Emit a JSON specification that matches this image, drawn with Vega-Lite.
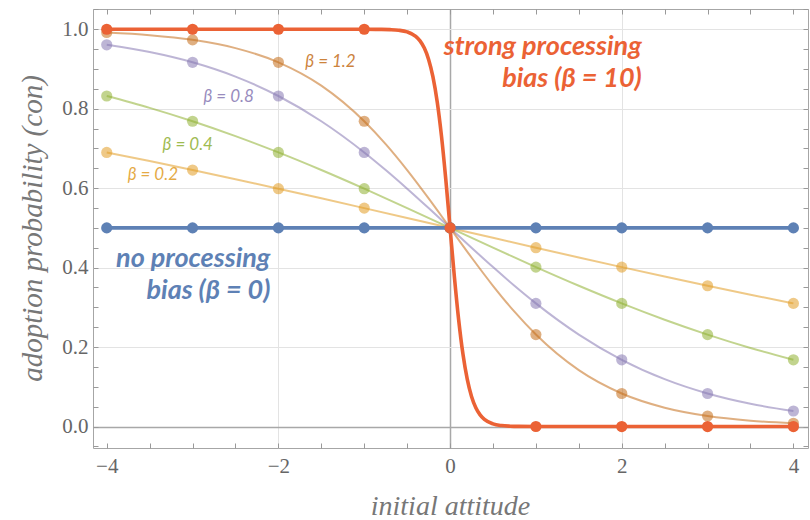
{
  "$schema": "https://vega.github.io/schema/vega-lite/v6.json",
  "width": 715,
  "height": 439,
  "autosize": {"type": "none"},
  "padding": {"left": 93, "top": 9, "right": 2, "bottom": 72},
  "background": "white",
  "config": {"view": {"stroke": "#a6a6a6", "strokeWidth": 1}},
  "datasets": {
    "curves": [
      {"beta": "β = 0", "x": -4, "p": 0.5}, {"beta": "β = 0", "x": -3, "p": 0.5}, {"beta": "β = 0", "x": -2, "p": 0.5}, {"beta": "β = 0", "x": -1, "p": 0.5}, {"beta": "β = 0", "x": 0, "p": 0.5}, {"beta": "β = 0", "x": 1, "p": 0.5}, {"beta": "β = 0", "x": 2, "p": 0.5}, {"beta": "β = 0", "x": 3, "p": 0.5}, {"beta": "β = 0", "x": 4, "p": 0.5},

      {"beta": "β = 0.2", "x": -4, "p": 0.68997}, {"beta": "β = 0.2", "x": -3.5, "p": 0.66819}, {"beta": "β = 0.2", "x": -3, "p": 0.64566}, {"beta": "β = 0.2", "x": -2.5, "p": 0.62246}, {"beta": "β = 0.2", "x": -2, "p": 0.59869}, {"beta": "β = 0.2", "x": -1.5, "p": 0.57444}, {"beta": "β = 0.2", "x": -1, "p": 0.54983}, {"beta": "β = 0.2", "x": -0.5, "p": 0.52498}, {"beta": "β = 0.2", "x": 0, "p": 0.5}, {"beta": "β = 0.2", "x": 0.5, "p": 0.47502}, {"beta": "β = 0.2", "x": 1, "p": 0.45017}, {"beta": "β = 0.2", "x": 1.5, "p": 0.42556}, {"beta": "β = 0.2", "x": 2, "p": 0.40131}, {"beta": "β = 0.2", "x": 2.5, "p": 0.37754}, {"beta": "β = 0.2", "x": 3, "p": 0.35434}, {"beta": "β = 0.2", "x": 3.5, "p": 0.33181}, {"beta": "β = 0.2", "x": 4, "p": 0.31003},

      {"beta": "β = 0.4", "x": -4, "p": 0.83202}, {"beta": "β = 0.4", "x": -3.5, "p": 0.80218}, {"beta": "β = 0.4", "x": -3, "p": 0.76852}, {"beta": "β = 0.4", "x": -2.5, "p": 0.73106}, {"beta": "β = 0.4", "x": -2, "p": 0.68997}, {"beta": "β = 0.4", "x": -1.5, "p": 0.64566}, {"beta": "β = 0.4", "x": -1, "p": 0.59869}, {"beta": "β = 0.4", "x": -0.5, "p": 0.54983}, {"beta": "β = 0.4", "x": 0, "p": 0.5}, {"beta": "β = 0.4", "x": 0.5, "p": 0.45017}, {"beta": "β = 0.4", "x": 1, "p": 0.40131}, {"beta": "β = 0.4", "x": 1.5, "p": 0.35434}, {"beta": "β = 0.4", "x": 2, "p": 0.31003}, {"beta": "β = 0.4", "x": 2.5, "p": 0.26894}, {"beta": "β = 0.4", "x": 3, "p": 0.23148}, {"beta": "β = 0.4", "x": 3.5, "p": 0.19782}, {"beta": "β = 0.4", "x": 4, "p": 0.16798},

      {"beta": "β = 0.8", "x": -4, "p": 0.96083}, {"beta": "β = 0.8", "x": -3.5, "p": 0.94268}, {"beta": "β = 0.8", "x": -3, "p": 0.91683}, {"beta": "β = 0.8", "x": -2.5, "p": 0.8808}, {"beta": "β = 0.8", "x": -2, "p": 0.83202}, {"beta": "β = 0.8", "x": -1.5, "p": 0.76852}, {"beta": "β = 0.8", "x": -1, "p": 0.68997}, {"beta": "β = 0.8", "x": -0.75, "p": 0.64566}, {"beta": "β = 0.8", "x": -0.5, "p": 0.59869}, {"beta": "β = 0.8", "x": -0.25, "p": 0.54983}, {"beta": "β = 0.8", "x": 0, "p": 0.5}, {"beta": "β = 0.8", "x": 0.25, "p": 0.45017}, {"beta": "β = 0.8", "x": 0.5, "p": 0.40131}, {"beta": "β = 0.8", "x": 0.75, "p": 0.35434}, {"beta": "β = 0.8", "x": 1, "p": 0.31003}, {"beta": "β = 0.8", "x": 1.5, "p": 0.23148}, {"beta": "β = 0.8", "x": 2, "p": 0.16798}, {"beta": "β = 0.8", "x": 2.5, "p": 0.1192}, {"beta": "β = 0.8", "x": 3, "p": 0.08317}, {"beta": "β = 0.8", "x": 3.5, "p": 0.05732}, {"beta": "β = 0.8", "x": 4, "p": 0.03917},

      {"beta": "β = 1.2", "x": -4, "p": 0.99184}, {"beta": "β = 1.2", "x": -3.5, "p": 0.98523}, {"beta": "β = 1.2", "x": -3, "p": 0.9734}, {"beta": "β = 1.2", "x": -2.5, "p": 0.95257}, {"beta": "β = 1.2", "x": -2, "p": 0.91683}, {"beta": "β = 1.2", "x": -1.5, "p": 0.85815}, {"beta": "β = 1.2", "x": -1, "p": 0.76852}, {"beta": "β = 1.2", "x": -0.75, "p": 0.71095}, {"beta": "β = 1.2", "x": -0.5, "p": 0.64566}, {"beta": "β = 1.2", "x": -0.25, "p": 0.57444}, {"beta": "β = 1.2", "x": 0, "p": 0.5}, {"beta": "β = 1.2", "x": 0.25, "p": 0.42556}, {"beta": "β = 1.2", "x": 0.5, "p": 0.35434}, {"beta": "β = 1.2", "x": 0.75, "p": 0.28905}, {"beta": "β = 1.2", "x": 1, "p": 0.23148}, {"beta": "β = 1.2", "x": 1.5, "p": 0.14185}, {"beta": "β = 1.2", "x": 2, "p": 0.08317}, {"beta": "β = 1.2", "x": 2.5, "p": 0.04743}, {"beta": "β = 1.2", "x": 3, "p": 0.0266}, {"beta": "β = 1.2", "x": 3.5, "p": 0.01477}, {"beta": "β = 1.2", "x": 4, "p": 0.00816},

      {"beta": "β = 10", "x": -4, "p": 1}, {"beta": "β = 10", "x": -3, "p": 1}, {"beta": "β = 10", "x": -2, "p": 1}, {"beta": "β = 10", "x": -1, "p": 0.99995}, {"beta": "β = 10", "x": -0.8, "p": 0.99966}, {"beta": "β = 10", "x": -0.7, "p": 0.99909}, {"beta": "β = 10", "x": -0.6, "p": 0.99753}, {"beta": "β = 10", "x": -0.5, "p": 0.99331}, {"beta": "β = 10", "x": -0.4, "p": 0.98201}, {"beta": "β = 10", "x": -0.35, "p": 0.97069}, {"beta": "β = 10", "x": -0.3, "p": 0.95257}, {"beta": "β = 10", "x": -0.25, "p": 0.92414}, {"beta": "β = 10", "x": -0.2, "p": 0.8808}, {"beta": "β = 10", "x": -0.15, "p": 0.81757}, {"beta": "β = 10", "x": -0.1, "p": 0.73106}, {"beta": "β = 10", "x": -0.05, "p": 0.62246}, {"beta": "β = 10", "x": 0, "p": 0.5}, {"beta": "β = 10", "x": 0.05, "p": 0.37754}, {"beta": "β = 10", "x": 0.1, "p": 0.26894}, {"beta": "β = 10", "x": 0.15, "p": 0.18243}, {"beta": "β = 10", "x": 0.2, "p": 0.1192}, {"beta": "β = 10", "x": 0.25, "p": 0.07586}, {"beta": "β = 10", "x": 0.3, "p": 0.04743}, {"beta": "β = 10", "x": 0.35, "p": 0.02931}, {"beta": "β = 10", "x": 0.4, "p": 0.01799}, {"beta": "β = 10", "x": 0.5, "p": 0.00669}, {"beta": "β = 10", "x": 0.6, "p": 0.00247}, {"beta": "β = 10", "x": 0.7, "p": 0.00091}, {"beta": "β = 10", "x": 0.8, "p": 0.00034}, {"beta": "β = 10", "x": 1, "p": 0.00005}, {"beta": "β = 10", "x": 2, "p": 0}, {"beta": "β = 10", "x": 3, "p": 0}, {"beta": "β = 10", "x": 4, "p": 0}
    ],
    "labels": [
      {"kind": "big", "beta": "β = 10", "x": 2.233, "p": 0.935, "text": "strong processing"},
      {"kind": "big", "beta": "β = 10", "x": 2.233, "p": 0.855, "text": "bias (β = 10)"},
      {"kind": "big", "beta": "β = 0", "x": -2.093, "p": 0.402, "text": "no processing"},
      {"kind": "big", "beta": "β = 0", "x": -2.093, "p": 0.321, "text": "bias (β = 0)"},
      {"kind": "small", "beta": "β = 1.2", "x": -1.686, "p": 0.905, "text": "β = 1.2"},
      {"kind": "small", "beta": "β = 0.8", "x": -2.872, "p": 0.817, "text": "β = 0.8"},
      {"kind": "small", "beta": "β = 0.4", "x": -3.349, "p": 0.696, "text": "β = 0.4"},
      {"kind": "small", "beta": "β = 0.2", "x": -3.756, "p": 0.621, "text": "β = 0.2"}
    ]
  },
  "resolve": {"axis": {"x": "independent", "y": "independent"}},
  "layer": [
    {
      "data": {"name": "curves"},
      "transform": [{"filter": {"field": "beta", "oneOf": ["β = 0.2", "β = 0.4", "β = 0.8", "β = 1.2"]}}],
      "mark": {"type": "line", "strokeWidth": 2, "opacity": 0.55, "interpolate": "monotone"},
      "encoding": {
        "x": {
          "field": "x", "type": "quantitative",
          "scale": {"domain": [-4.16, 4.17], "nice": false, "zero": false},
          "axis": {
            "orient": "bottom",
            "values": [-4, -3.5, -3, -2.5, -2, -1.5, -1, -0.5, 0, 0.5, 1, 1.5, 2, 2.5, 3, 3.5, 4],
            "labelExpr": "datum.value % 2 == 0 ? (datum.value < 0 ? '−' + abs(datum.value) : '' + datum.value) : ''",
            "title": "initial attitude",
            "domain": false,
            "tickSize": -5, "tickColor": "#999999", "tickWidth": 1,
            "grid": true,
            "gridColor": {"condition": {"test": "datum.value == 0", "value": "#a8a8a8"}, "value": "#e3e3e3"},
            "gridOpacity": {"condition": {"test": "datum.value == 0 || abs(datum.value) == 2", "value": 1}, "value": 0},
            "gridWidth": {"condition": {"test": "datum.value == 0", "value": 1.5}, "value": 1},
            "labelFont": "Liberation Serif", "labelFontSize": 21, "labelColor": "#666666", "labelPadding": 12,
            "titleFont": "Liberation Serif", "titleFontStyle": "italic", "titleFontWeight": "normal",
            "titleFontSize": 28, "titleColor": "#777777", "titleBaseline": "alphabetic", "titleX": 357, "titleY": 66
          }
        },
        "y": {
          "field": "p", "type": "quantitative",
          "scale": {"domain": [-0.054, 1.051], "nice": false, "zero": false},
          "axis": {
            "orient": "left",
            "values": [-0.05, 0, 0.05, 0.1, 0.15, 0.2, 0.25, 0.3, 0.35, 0.4, 0.45, 0.5, 0.55, 0.6, 0.65, 0.7, 0.75, 0.8, 0.85, 0.9, 0.95, 1, 1.05],
            "labelExpr": "abs(round(datum.value * 100)) % 20 == 0 && datum.value >= 0 ? format(datum.value, '.1f') : ''",
            "title": "adoption probability (con)",
            "domain": false,
            "tickSize": -5, "tickColor": "#999999", "tickWidth": 1,
            "grid": true,
            "gridColor": {"condition": {"test": "datum.value == 0", "value": "#a8a8a8"}, "value": "#e3e3e3"},
            "gridOpacity": {"condition": {"test": "abs(round(datum.value * 100)) % 20 == 0 && datum.value >= 0", "value": 1}, "value": 0},
            "gridWidth": {"condition": {"test": "datum.value == 0", "value": 1.5}, "value": 1},
            "labelFont": "Liberation Serif", "labelFontSize": 21, "labelColor": "#666666", "labelPadding": 10,
            "titleFont": "Liberation Serif", "titleFontStyle": "italic", "titleFontWeight": "normal",
            "titleFontSize": 29, "titleColor": "#777777", "titleBaseline": "alphabetic", "titleAngle": -90,
            "titleX": -52, "titleY": 219, "titleAlign": "center"
          }
        },
        "color": {
          "field": "beta", "type": "nominal", "legend": null,
          "scale": {
            "domain": ["β = 0", "β = 0.2", "β = 0.4", "β = 0.8", "β = 1.2", "β = 10"],
            "range": ["#5E81B5", "#E19C24", "#8FB032", "#8778B3", "#C56E1A", "#EB6235"]
          }
        }
      }
    },
    {
      "data": {"name": "curves"},
      "transform": [
        {"filter": {"field": "beta", "oneOf": ["β = 0.2", "β = 0.4", "β = 0.8", "β = 1.2"]}},
        {"filter": "datum.x == round(datum.x)"}
      ],
      "mark": {"type": "point", "filled": true, "size": 125, "opacity": 0.55},
      "encoding": {
        "x": {"field": "x", "type": "quantitative", "axis": null},
        "y": {"field": "p", "type": "quantitative", "axis": null},
        "color": {"field": "beta", "type": "nominal", "legend": null}
      }
    },
    {
      "data": {"name": "curves"},
      "transform": [{"filter": {"field": "beta", "oneOf": ["β = 0", "β = 10"]}}],
      "mark": {"type": "line", "strokeWidth": 3.6, "interpolate": "monotone"},
      "encoding": {
        "x": {
          "field": "x", "type": "quantitative",
          "axis": {
            "orient": "top", "labels": false, "title": null, "grid": false, "domain": false,
            "values": [-4, -3.5, -3, -2.5, -2, -1.5, -1, -0.5, 0, 0.5, 1, 1.5, 2, 2.5, 3, 3.5, 4],
            "tickSize": -5, "tickColor": "#999999", "tickWidth": 1
          }
        },
        "y": {
          "field": "p", "type": "quantitative",
          "axis": {
            "orient": "right", "labels": false, "title": null, "grid": false, "domain": false,
            "values": [-0.05, 0, 0.05, 0.1, 0.15, 0.2, 0.25, 0.3, 0.35, 0.4, 0.45, 0.5, 0.55, 0.6, 0.65, 0.7, 0.75, 0.8, 0.85, 0.9, 0.95, 1, 1.05],
            "tickSize": -5, "tickColor": "#999999", "tickWidth": 1
          }
        },
        "color": {"field": "beta", "type": "nominal", "legend": null}
      }
    },
    {
      "data": {"name": "curves"},
      "transform": [
        {"filter": {"field": "beta", "oneOf": ["β = 0", "β = 10"]}},
        {"filter": "datum.x == round(datum.x)"}
      ],
      "mark": {"type": "point", "filled": true, "size": 125, "opacity": 1},
      "encoding": {
        "x": {"field": "x", "type": "quantitative", "axis": null},
        "y": {"field": "p", "type": "quantitative", "axis": null},
        "color": {"field": "beta", "type": "nominal", "legend": null}
      }
    },
    {
      "data": {"name": "labels"},
      "transform": [{"filter": "datum.kind == 'small'"}],
      "mark": {"type": "text", "align": "left", "baseline": "alphabetic", "font": "Lato", "fontStyle": "italic", "fontSize": 17, "opacity": 0.85},
      "encoding": {
        "x": {"field": "x", "type": "quantitative", "axis": null},
        "y": {"field": "p", "type": "quantitative", "axis": null},
        "text": {"field": "text"},
        "color": {"field": "beta", "type": "nominal", "legend": null}
      }
    },
    {
      "data": {"name": "labels"},
      "transform": [{"filter": "datum.kind == 'big'"}],
      "mark": {"type": "text", "align": "right", "baseline": "alphabetic", "font": "Lato", "fontStyle": "italic", "fontWeight": "bold", "fontSize": 27},
      "encoding": {
        "x": {"field": "x", "type": "quantitative", "axis": null},
        "y": {"field": "p", "type": "quantitative", "axis": null},
        "text": {"field": "text"},
        "color": {"field": "beta", "type": "nominal", "legend": null}
      }
    }
  ]
}
